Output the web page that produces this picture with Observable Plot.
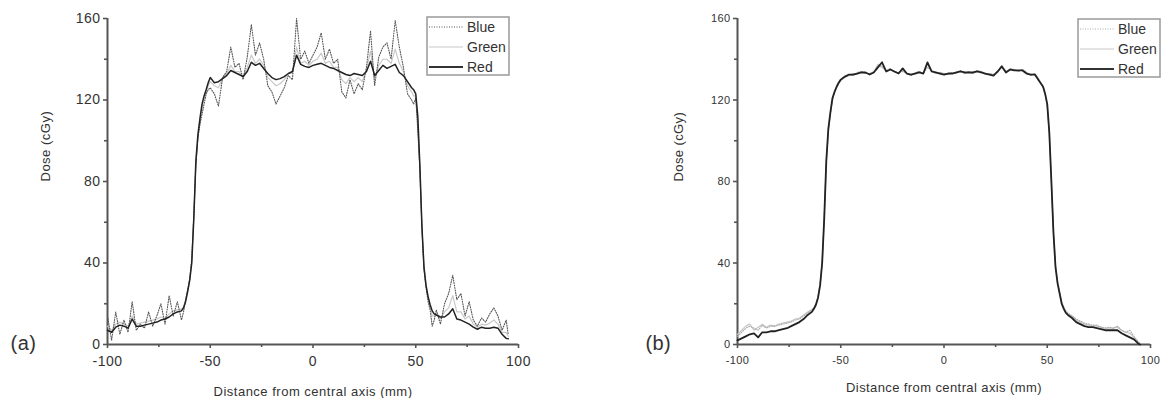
<!DOCTYPE html>
<html><head><meta charset="utf-8">
<script src="https://cdn.jsdelivr.net/npm/d3@7"></script>
<script src="https://cdn.jsdelivr.net/npm/@observablehq/plot@0.6"></script>
<style>
html,body{margin:0;padding:0;background:#fff;}
#wrap{position:relative;width:1170px;height:398px;overflow:hidden;font-family:"Liberation Sans",Arial,sans-serif;}
.panel{position:absolute;top:0;}
.legend{position:absolute;}
</style></head><body>
<div id="wrap"></div>
<script>
// Distance from central axis (mm)
const distance = [
  -100,-98,-96,-94,-92,-90,-88,-86,-84,-82,-80,-78,-76,-74,-72,-70,-68,-66,-64,
  -63,-62,-61,-60,-59,-58,-57,-56,-55,-54,-53,-52,-51,-50,
  -48,-46,-44,-42,-40,-38,-36,-34,-32,-30,-28,-26,-24,-22,-20,-18,-16,-14,-12,-10,-8,-6,-4,-2,0,2,4,6,8,10,12,14,16,18,20,22,24,26,28,30,32,34,36,38,40,42,44,46,48,
  49,50,51,52,53,54,55,56,57,58,59,60,
  62,64,66,68,70,72,74,76,78,80,82,84,86,88,90,92,94,95
];
const seriesNames = ["Blue","Green","Red"];

// Panel (a)
const blueA = [
  14,2,16,5,12,6,21,7,10,8,16,9,14,20,10,24,14,21,12,
  16,22,27,32,42,63,88,101,108,113,118,123,125,126,
  123,117,131,134,146,136,138,130,141,157,142,148,140,127,124,118,122,126,132,130,160,140,144,138,142,146,153,140,145,138,140,124,121,130,123,128,125,136,154,127,141,146,148,140,159,146,136,123,120,
  118,121,105,86,57,37,28,21,17,9,12,17,
  10,20,25,34,22,25,14,21,12,9,13,11,15,18,14,7,12,5
];
const greenA = [
  9,7,10,11,10,9,14,10,10.5,11,11.5,12,12.5,13.5,13,15,16.5,17,17.5,
  18.5,22,26,32,41,63,89,102,110,116,121,124,127,129,
  127,126,131,133,137,134,134,131,136,142,138,140,137,131,129,127,128,130,133,133,146,138,139,137,139,140,143,138,139,136,136,130,128,131,129,131,129,135,144,130,137,140,140,138,145,138,134,127,124,
  122,122,109,87,58,38,29,23,18.5,14,14,15.5,
  12.5,16,18,24,16,16,12.5,14,10,8.5,10,9.5,10.5,12,10,6,6,4
];
const redA = [
  7,6,8.5,9.5,9,8,12.5,9,9,9.5,10,10.5,11,12,12.5,13.5,15,16,16.5,
  18,21,26,31.5,40,62,90,103,111,118,122,125,128.5,131,
  128.5,129,130.5,132,134.5,133.5,132.5,131.5,134,138.5,137,138,135.5,133,131,130,130.5,131.5,133,134,142,137.5,136.5,136,137,137.5,138,137,136,135.5,134.5,133.5,132.5,132,133,132.5,132,134,139,132,134.5,137,135.5,136.5,137.5,133.5,132,129,126,
  125,123,112,88,58,38,29,23.5,19.5,16.5,15,14.5,
  13.5,13.5,15,17.5,12.5,12,11,10,8.5,7.5,8.5,8,8,8.5,8,5,3,2.8
];

// Panel (b)
const blueB = [
  4,6,8,9,8,7,9.5,8,9,9,9.5,10,10.5,11,12,12.5,14,15.5,17,
  18,20,23.5,29.5,40,62,89,105,113,120,124,126,128,129.5,
  131,132,132,133.5,134,133,133,134,137,136,134.5,135.5,133.5,133.5,134,133,132,133.5,134,133,136,134.5,133,133.5,133,132.5,133.5,133,134.5,133,134,133,134.5,134,132.5,133,132.5,133.5,136.5,134,134.5,135,134,135,133.5,132,133,130,126,
  122.5,117,103,80,55,39,31,26,21,18.5,16.5,15.5,
  14,12.5,11.5,10.5,10,9.5,9.5,8.5,8,8.5,8,9,7,6,7,4,1.5,0.5
];
const greenB = [
  5,7,9,10,7,8.5,10,8.5,9.5,9,10,10.5,11,11.5,12.5,13,14.5,16,17,
  18,20,23.5,29,40,62,90,105,114,120,124,126.5,128.5,130,
  131.5,132,133,133,134,133,133,133.5,137.5,136.5,134,135,134,133.5,134.5,133,132.5,133,134,133,137.5,134,133,133.5,133,133,133,133.5,134,133,134,133,134,134,133,133,132.5,134,137,134,135,135,134,135,133.5,132.5,133,130,126.5,
  123,117.5,103.5,80,55,38.5,30.5,25.5,20.5,18,16,15,
  14,12,11,10,9.5,9,9,8.5,8,8,8,8.5,7,6,5.5,3.5,1,0.5
];
const redB = [
  2,3,4,5,5.5,3.5,6,6,6.5,6.5,7,7.5,8,9,10,11,12.5,14.5,16,
  17.5,19.5,23,29,40,62,90,106,114,121,124,126.5,128.5,130,
  131.5,132.5,132.5,133,133.5,133.5,132.5,133.5,136,138.5,134,135,134,133,135.5,133,132.5,133,133.5,133,138.5,134,133.5,133,132.5,133,133,133.5,134,133.5,133.5,133.5,134,133.5,133,132.5,132,134,136.5,133.5,135,134.5,134.5,134.5,133,132.5,132.5,129.5,126.5,
  123,118,104,80,55,38,30,25,20,17.5,15.5,14.5,
  13,11,10,9,8.5,8.5,8,7.5,7,7,7,7,5.5,4.5,3.5,2.5,0.5,0
];

const yMajorTicks = [0,40,80,120,160];
const yMinorTicks = [20,60,100,140];
const xMajorTicks = [-100,-50,0,50,100];
const xMinorTicks = [-75,-25,25,75];
const panelLabels = ["(a)","(b)"];
const axisTitleX = "Distance from central axis (mm)";
const axisTitleY = "Dose (cGy)";

[blueA,greenA,redA,blueB,greenB,redB].forEach((a,k)=>{
  if (a.length !== distance.length) throw new Error("length mismatch in series "+k+": "+a.length+" vs "+distance.length);
});

function rows(blue, green, red) {
  return distance.map((d,i)=>({distance:d, Blue:blue[i], Green:green[i], Red:red[i]}));
}

function panel(cfg) {
  const data = rows(cfg.blue, cfg.green, cfg.red);
  const axisStyle = {stroke:"#555", strokeWidth:1.6};
  const fmt = d => String(d);
  return Plot.plot({
    width:585, height:398,
    marginLeft:cfg.ml, marginRight:cfg.mr, marginTop:18, marginBottom:54,
    x:{domain:[-100,100]},
    y:{domain:[0,160]},
    style:{fontFamily:"'Liberation Sans', Arial, sans-serif", fontSize:cfg.tickFont+"px", color:"#333", background:"#fff", letterSpacing:cfg.ls, overflow:"visible"},
    marks:[
      Plot.axisY({ticks:yMajorTicks, tickSize:4, tickPadding:3, tickFormat:fmt, label:null, fontSize:cfg.tickFont, ...axisStyle}),
      Plot.axisY({ticks:yMinorTicks, tickSize:3, tickFormat:()=>"", label:null, ...axisStyle}),
      Plot.axisX({ticks:xMajorTicks, tickSize:4, tickPadding:cfg.xPad, tickFormat:fmt, label:null, fontSize:cfg.tickFont, ...axisStyle}),
      Plot.axisX({ticks:xMinorTicks, tickSize:3, tickFormat:()=>"", label:null, ...axisStyle}),
      Plot.ruleX([-100], {stroke:"#555", strokeWidth:2}),
      Plot.ruleY([0], {stroke:"#555", strokeWidth:2}),
      Plot.line(data, {x:"distance", y:"Green", stroke:"#c8c8c8", strokeWidth:1.2}),
      Plot.line(data, {x:"distance", y:"Blue", stroke:cfg.blueColor, strokeWidth:1.1, strokeDasharray:"1,1.5"}),
      Plot.line(data, {x:"distance", y:"Red", stroke:"#222", strokeWidth:cfg.redW}),
      Plot.text([axisTitleY], {text:d=>d, frameAnchor:"left", rotate:-90, dx:-cfg.yTitleOff, fontSize:13, fill:"#333"}),
      Plot.text([axisTitleX], {text:d=>d, frameAnchor:"bottom", dy:cfg.xTitleOff, fontSize:13, fill:"#333"}),
      Plot.text([cfg.label], {text:d=>d, frameAnchor:"bottom-left", textAnchor:"start", lineAnchor:"middle", dx:cfg.panelDx, dy:-1, fontSize:20, fill:"#333"})
    ]
  });
}

function legend(left, top, blueColor) {
  const ns = "http://www.w3.org/2000/svg";
  const w = 84, h = 60;
  const svg = document.createElementNS(ns, "svg");
  svg.setAttribute("width", w); svg.setAttribute("height", h);
  svg.setAttribute("class", "legend");
  svg.style.left = left + "px"; svg.style.top = top + "px";
  const rect = document.createElementNS(ns, "rect");
  rect.setAttribute("x", 1); rect.setAttribute("y", 1); rect.setAttribute("width", w-2); rect.setAttribute("height", h-2);
  rect.setAttribute("fill", "#fff"); rect.setAttribute("stroke", "#999"); rect.setAttribute("stroke-width", 1.5);
  svg.appendChild(rect);
  const styles = {
    Blue:{stroke:blueColor, dash:"1,1.5", w:1.2},
    Green:{stroke:"#c8c8c8", dash:null, w:1.2},
    Red:{stroke:"#333", dash:null, w:2}
  };
  seriesNames.forEach((name, i) => {
    const y = 11 + i*20;
    const ln = document.createElementNS(ns, "line");
    ln.setAttribute("x1", 3); ln.setAttribute("x2", 37); ln.setAttribute("y1", y); ln.setAttribute("y2", y);
    ln.setAttribute("stroke", styles[name].stroke); ln.setAttribute("stroke-width", styles[name].w);
    if (styles[name].dash) ln.setAttribute("stroke-dasharray", styles[name].dash);
    svg.appendChild(ln);
    const t = document.createElementNS(ns, "text");
    t.setAttribute("x", 41); t.setAttribute("y", y); t.setAttribute("dy", "0.35em");
    t.setAttribute("font-size", 14); t.setAttribute("fill", "#333");
    t.setAttribute("font-family", "'Liberation Sans', Arial, sans-serif");
    t.textContent = name;
    svg.appendChild(t);
  });
  return svg;
}

const wrap = document.getElementById("wrap");
const pa = panel({blue:blueA, green:greenA, red:redA, ml:107, mr:67, tickFont:14, ls:"0.5px", xPad:8,
  blueColor:"#555", redW:1.5, yTitleOff:62, xTitleOff:51, panelDx:-97, label:panelLabels[0]});
pa.classList.add("panel"); pa.style.left = "0px";
const pb = panel({blue:blueB, green:greenB, red:redB, ml:152, mr:20, tickFont:11, ls:"0.4px", xPad:8,
  blueColor:"#aaa", redW:1.8, yTitleOff:59, xTitleOff:47, panelDx:-92, label:panelLabels[1]});
pb.classList.add("panel"); pb.style.left = "585px";
wrap.appendChild(pa);
wrap.appendChild(pb);
wrap.appendChild(legend(426, 16, "#555"));
wrap.appendChild(legend(1077, 18, "#aaa"));
</script>
</body></html>
